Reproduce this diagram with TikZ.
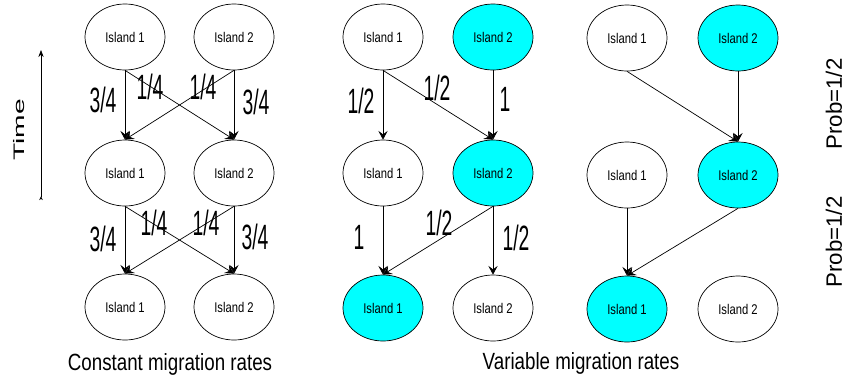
\documentclass[tikz,border=0pt]{standalone}
\usepackage{fontspec}
\setmainfont{Liberation Sans}
\newfontfamily\islandfont[FakeStretch=0.8]{Liberation Sans}
\newfontfamily\ratefont[FakeStretch=0.55]{Liberation Sans}
\newfontfamily\captfont[FakeStretch=0.8]{Liberation Sans}
\newfontfamily\timefont[FakeStretch=1.85]{Liberation Sans}
\usetikzlibrary{shapes.geometric,arrows.meta}
\definecolor{islcyan}{RGB}{0,255,255}
\tikzset{
  isl/.style={ellipse,draw,line width=0.6pt,minimum width=2.4cm,minimum height=1.98cm,inner sep=0pt,font=\islandfont\fontsize{12}{13}\selectfont},
  hot/.style={isl,fill=islcyan},
  mig/.style={line width=0.6pt,-{Stealth[length=7.5pt,width=8pt,inset=3pt]}},
  rate/.style={font=\ratefont\fontsize{30}{31}\selectfont,inner sep=0pt},
  capt/.style={font=\captfont\fontsize{20}{22}\selectfont,inner sep=0pt},
  prob/.style={font=\fontsize{19}{20}\selectfont,rotate=90,inner sep=0pt}
}
\begin{document}
\begin{tikzpicture}[x=0.03cm,y=-0.03cm]
        \useasboundingbox (0,0) rectangle (849,384);
        % constant rates
        \node[isl] (a1) at (125,37) {Island 1};
        \node[isl] (a2) at (234,37) {Island 2};
        \node[isl] (b1) at (125,173) {Island 1};
        \node[isl] (b2) at (234,173) {Island 2};
        \node[isl] (c1) at (125,307) {Island 1};
        \node[isl] (c2) at (234,307) {Island 2};
        \draw[mig] (a1.south) -- (b1.north);
        \draw[mig] (a1.south) -- (b2.north);
        \draw[mig] (a2.south) -- (b1.north);
        \draw[mig] (a2.south) -- (b2.north);
        \draw[mig] (b1.south) -- (c1.north);
        \draw[mig] (b1.south) -- (c2.north);
        \draw[mig] (b2.south) -- (c1.north);
        \draw[mig] (b2.south) -- (c2.north);
        \node[rate] (ra1) at (103,100) {3/4};
        \node[rate] (ra2) at (150,87) {1/4};
        \node[rate] (ra3) at (203,87) {1/4};
        \node[rate] (ra4) at (256,102) {3/4};
        \node[rate] (rb1) at (103,239) {3/4};
        \node[rate] (rb2) at (154,223) {1/4};
        \node[rate] (rb3) at (206,223) {1/4};
        \node[rate] (rb4) at (255,237) {3/4};
        % variable rates, first case
        \node[isl] (d1) at (383,37) {Island 1};
        \node[hot] (d2) at (493,37) {Island 2};
        \node[isl] (e1) at (383,173) {Island 1};
        \node[hot] (e2) at (493,173) {Island 2};
        \node[hot] (f1) at (383,308) {Island 1};
        \node[isl] (f2) at (493,308) {Island 2};
        \draw[mig] (d1.south) -- (e1.north);
        \draw[mig] (d1.south) -- (e2.north);
        \draw[mig] (d2.south) -- (e2.north);
        \draw[mig] (e1.south) -- (f1.north);
        \draw[mig] (e2.south) -- (f1.north);
        \draw[mig] (e2.south) -- (f2.north);
        \node[rate] (rd1) at (361,101) {1/2};
        \node[rate] (rd2) at (437,88) {1/2};
        \node[rate] (rd3) at (505,99) {1};
        \node[rate] (re1) at (359,237) {1};
        \node[rate] (re2) at (439,223) {1/2};
        \node[rate] (re3) at (516,238) {1/2};
        % variable rates, second case
        \node[isl] (g1) at (627,38) {Island 1};
        \node[hot] (g2) at (738,38) {Island 2};
        \node[isl] (h1) at (627,175) {Island 1};
        \node[hot] (h2) at (738,175) {Island 2};
        \node[hot] (k1) at (627,309) {Island 1};
        \node[isl] (k2) at (738,309) {Island 2};
        \draw[mig] (g1.south) -- (h2.north);
        \draw[mig] (g2.south) -- (h2.north);
        \draw[mig] (h1.south) -- (k1.north);
        \draw[mig] (h2.south) -- (k1.north);
        % time axis and captions
        \coordinate (tb) at (41,200);
        \coordinate (tt) at (41,50);
        \draw[line width=0.6pt,{Stealth[reversed,length=3pt,width=3pt]}-{Stealth[length=6pt,width=4.5pt]}] (tb) -- (tt);
        \node[font=\timefont\fontsize{13}{14}\selectfont,rotate=90,inner sep=0pt] (time) at (19,130) {Time};
        \node[capt] (cc) at (170,364) {Constant migration rates};
        \node[capt] (cv) at (581,363) {Variable migration rates};
        \node[prob] (p1) at (834,104) {Prob=1/2};
        \node[prob] (p2) at (834,242) {Prob=1/2};
        \end{tikzpicture}
\end{document}
